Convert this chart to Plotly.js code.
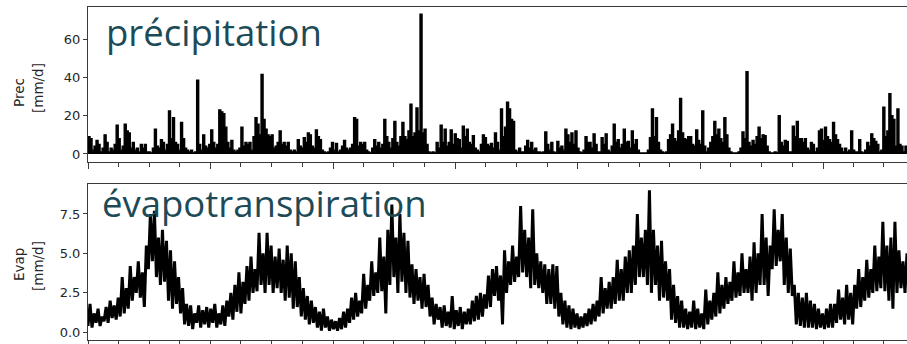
<!DOCTYPE html>
<html>
<head>
<meta charset="utf-8">
<script src="https://cdn.plot.ly/plotly-3.0.1.min.js"></script>
<style>html,body{margin:0;padding:0;background:#fff;}#chart{width:907px;height:344px;}</style>
</head>
<body>
<div id="chart"></div>
<script>
// Series start and sampling step (days) of the time axis
const startDate = '2000-01-01';
const stepDays = 6;

// Daily precipitation [mm/d], sampled every 6 days
const prec = [
9,8,2,4,7,5,1,3,10,6, 1,3,2,5,15,8,2,4,15.5,12,
11,3,6,2,3,1,5,3,5,1, 1,0.5,3,13,4,3,7.5,6,2,5,
22.5,8,19,6,5,2,16.5,8,3,2, 1,2,0.5,1,38.5,5,2,10,4,3,
5,12.5,6,3,5,23,22,21,14,6, 3,7,2,1,2,3,14,4,6,5,
6,2,9,19,15.5,10,41.5,18,13,10, 9,10,3,4,6,12,5,6,4,6,
2,1,2,1,7.5,4,3,8.5,6,11, 10,4,3,12.5,9,7.5,2,1,0.5,1,
3,6,2,5.5,1,2,4,7,3,2, 3,5,19,18,4,6,5,6,2,1,
0.5,3,7.5,4,6,3,5,18,9,6, 3,8,17,6,4,9,16.5,9,7.5,12,
26,9,11,24,12,73,11,13,5,1, 0.5,1,0.5,6,3,15,6,13,4,6,
12.5,5,10.5,8,7.5,3,14.5,9,13,6, 5,9.5,3,2,1,5,10,8.5,5,4,
5.5,3,11,6,2,23.5,9,14,27,23.5, 18,17,2,1,3,1,1,4,7,3,
6,2,3,1,1,0.5,1,11.5,5,2, 6,1,0.5,6.5,3,4,2,13,10,6,
11,5,12,3,1,0.5,2,9,6,6, 3,10.5,5,1,1,8.5,5,10.5,2,1,
4,15.5,6,7.5,3,5,13,6,6.5,3, 12,5,7.5,2,0.5,0.5,0.5,0.5,2,8.5,
23.5,9,19,6,2,1,0.5,1,7.5,10, 15.5,8,6.5,12,29,11,8,7.5,9,9,
5,4,12.5,7,5,22.5,4,1,3,6, 9,17,10,13,8,6,19,10,3,1,
0.5,0.5,0.5,1,3,11.5,8,43,6,4, 7,5,9,14,8,10,9.5,4,1,0.5,
0.5,1,0.5,20,6,4,7,6.5,1,1, 14.5,9,17,8,8,6,8,3,2,6,
5,1,3,12,13,7,14,9,7.5,6, 16.5,10,7.5,5,3,1,3,1,2,12,
2,1,1,7.5,1,0.5,2,6,4,10.5, 8,6.5,5,1,2,24.5,9,12,31.5,20,
18,4,23.5,5,4,1,4,2,1,2
];

// Daily evapotranspiration [mm/d], sampled every 6 days
const evap = [
0.4,1.8,0.3,1.2,0.6,1.5,0.4,1.0,0.7,1.6, 0.6,2.0,0.9,1.7,0.8,2.2,1.0,3.5,1.2,2.8,
1.5,4.2,2.0,3.5,2.5,4.5,2.2,3.8,1.6,5.5, 4.0,7.5,4.5,7.7,3.5,6.0,3.0,6.5,3.2,5.8,
2.0,5.2,1.5,4.5,1.8,3.5,1.2,2.8,0.5,1.8, 0.4,1.7,0.2,1.2,0.6,1.7,0.3,1.4,0.5,1.6,
0.3,1.5,0.6,1.8,0.3,1.2,0.5,1.7,0.4,2.0, 1.0,2.5,0.8,3.0,1.3,3.8,1.2,3.2,1.8,4.2,
2.0,4.8,2.5,4.0,2.6,6.3,3.0,5.0,2.5,6.3, 3.0,5.5,2.5,4.8,2.8,5.3,2.5,4.6,2.0,5.5,
2.2,5.0,1.5,4.5,1.6,3.5,1.0,2.8,0.8,2.3, 0.5,2.0,0.6,1.6,0.3,1.3,0.1,1.5,0.3,1.0,
0.1,0.8,0.2,0.7,0.1,0.9,0.2,1.3,0.3,1.5, 0.6,2.2,0.8,2.5,1.0,2.0,1.2,3.7,1.5,3.0,
2.0,4.5,2.3,3.8,2.5,6.0,2.6,4.8,1.2,6.5, 3.0,8.1,3.5,6.0,2.5,7.5,3.2,6.3,2.5,5.8,
2.2,4.3,1.8,4.0,2.0,3.5,1.5,3.7,1.6,3.0, 1.0,2.2,0.5,1.8,0.8,1.6,0.3,1.7,0.4,1.3,
0.3,2.3,0.2,1.4,0.4,1.6,0.2,1.3,0.5,1.5, 0.5,2.0,0.7,2.3,0.8,2.5,1.0,2.4,1.5,3.6,
1.6,4.0,2.3,4.2,2.0,3.6,0.5,5.2,2.5,4.5, 3.0,5.5,3.2,4.8,3.5,8.0,3.8,6.5,3.5,6.0,
2.8,7.8,3.0,5.0,2.8,4.5,2.5,4.3,1.8,4.0, 1.8,4.3,1.5,4.2,1.0,2.5,0.5,2.0,0.3,1.7,
0.2,1.5,0.3,1.2,0.2,1.0,0.3,1.2,0.4,1.5, 0.5,1.8,0.7,2.0,1.0,3.5,1.2,2.8,1.5,3.2,
1.5,3.5,1.8,4.6,2.0,4.0,2.0,4.8,2.5,5.2, 2.5,5.5,3.0,7.5,3.5,6.0,3.5,6.5,3.0,9.0,
2.5,6.5,3.0,5.5,2.0,5.8,2.2,4.5,2.0,4.0, 0.8,3.0,0.6,2.3,0.3,2.0,0.3,1.5,0.2,1.3,
0.3,2.0,0.2,1.5,0.3,1.2,0.2,2.7,0.5,2.0, 0.8,2.5,1.0,3.8,1.2,3.0,1.5,3.5,1.8,3.2,
2.0,4.5,2.2,3.8,2.3,5.0,2.5,4.0,2.5,4.8, 2.0,5.7,2.5,5.0,3.0,7.5,3.0,6.0,2.3,5.5,
4.0,7.8,4.2,6.5,4.5,7.5,3.0,6.0,2.5,5.3, 2.3,3.0,0.5,2.5,0.4,2.2,0.3,2.5,0.3,2.0,
0.3,1.8,0.2,1.5,0.3,1.2,0.2,1.5,0.3,1.8, 0.3,1.8,0.6,2.7,0.8,2.2,0.5,3.0,0.8,2.5,
0.5,3.0,1.5,4.0,1.6,3.5,2.0,4.6,2.2,4.0, 2.5,5.5,2.6,4.8,2.8,7.0,2.6,5.5,2.0,6.0,
1.5,7.0,2.5,5.2,2.8,4.5,2.5,5.0,2.5,4.7
];

const precTicks = [0, 20, 40, 60];
const evapTicks = [0, 2.5, 5, 7.5];
const evapTickText = ['0.0', '2.5', '5.0', '7.5'];
const precLabel = ['Prec', '[mm/d]'];
const evapLabel = ['Evap', '[mm/d]'];
const precTitle = 'précipitation';
const evapTitle = 'évapotranspiration';

function dateAt(i) {
  const d = new Date(startDate + 'T00:00:00Z');
  d.setUTCDate(d.getUTCDate() + i * stepDays);
  return d.toISOString().slice(0, 10);
}
const datesP = prec.map((_, i) => dateAt(i));
const datesE = evap.map((_, i) => dateAt(i));

const W = 907, H = 344;
const px = x => x / W;
const py = y => 1 - y / H;

const lineCol = '#000000';
const frameCol = '#3a3a3a';
const tickFont = {family: 'DejaVu Sans, sans-serif', size: 13, color: '#262626'};
const labelFont = {family: 'DejaVu Sans, sans-serif', size: 13.5, color: '#262626'};
const teal = '#1c4b57';

const traces = [
  {x: datesP, y: prec, type: 'scatter', mode: 'lines', line: {color: lineCol, width: 1.4, shape: 'hv'},
   fill: 'tozeroy', fillcolor: lineCol, xaxis: 'x', yaxis: 'y', hoverinfo: 'skip'},
  {x: datesE, y: evap, type: 'scatter', mode: 'lines', line: {color: lineCol, width: 3}, xaxis: 'x2', yaxis: 'y2', hoverinfo: 'skip'}
];

const xCommon = {
  type: 'date',
  range: ['2000-01-01', '2006-09-08'],
  domain: [px(88), 1],
  showgrid: false, zeroline: false,
  showline: true, linecolor: frameCol, linewidth: 1, mirror: true,
  ticks: 'outside', ticklen: 6, tickwidth: 1, tickcolor: frameCol,
  tick0: '2000-01-01', dtick: 'M12',
  minor: {ticks: 'outside', ticklen: 3.5, tickwidth: 1, tickcolor: frameCol, dtick: 'M3', tick0: '2000-01-01', showgrid: false},
  showticklabels: false, automargin: false, fixedrange: true
};

const layout = {
  width: W, height: H,
  margin: {l: 0, r: 0, t: 0, b: 0, pad: 0},
  paper_bgcolor: '#ffffff', plot_bgcolor: '#ffffff',
  showlegend: false,
  xaxis: Object.assign({}, xCommon, {anchor: 'y'}),
  xaxis2: Object.assign({}, xCommon, {anchor: 'y2'}),
  yaxis: {
    domain: [py(162), py(7)], range: [-4.2, 76.8], anchor: 'x',
    tickvals: precTicks, ticktext: precTicks.map(String),
    ticks: 'outside', ticklen: 4, tickwidth: 1, tickcolor: frameCol,
    showline: true, linecolor: frameCol, linewidth: 1,
    showgrid: false, zeroline: false, tickfont: tickFont, automargin: false, fixedrange: true
  },
  yaxis2: {
    domain: [py(340), py(184)], range: [-0.49, 9.4], anchor: 'x2',
    tickvals: evapTicks, ticktext: evapTickText,
    ticks: 'outside', ticklen: 4, tickwidth: 1, tickcolor: frameCol,
    showline: true, linecolor: frameCol, linewidth: 1,
    showgrid: false, zeroline: false, tickfont: tickFont, automargin: false, fixedrange: true
  },
  annotations: [
    {text: precLabel[0], xref: 'paper', yref: 'paper', x: px(19), y: py(93), textangle: -90, showarrow: false, xanchor: 'center', yanchor: 'middle', font: labelFont},
    {text: precLabel[1], xref: 'paper', yref: 'paper', x: px(38), y: py(88), textangle: -90, showarrow: false, xanchor: 'center', yanchor: 'middle', font: labelFont},
    {text: evapLabel[0], xref: 'paper', yref: 'paper', x: px(19), y: py(265), textangle: -90, showarrow: false, xanchor: 'center', yanchor: 'middle', font: labelFont},
    {text: evapLabel[1], xref: 'paper', yref: 'paper', x: px(38), y: py(266), textangle: -90, showarrow: false, xanchor: 'center', yanchor: 'middle', font: labelFont},
    {text: precTitle, xref: 'paper', yref: 'paper', x: px(104), y: py(32), showarrow: false, xanchor: 'left', yanchor: 'middle', font: {family: 'Open Sans, sans-serif', size: 36.5, color: teal}},
    {text: evapTitle, xref: 'paper', yref: 'paper', x: px(100), y: py(203), showarrow: false, xanchor: 'left', yanchor: 'middle', font: {family: 'Open Sans, sans-serif', size: 36.5, color: teal}}
  ]
};

Plotly.newPlot('chart', traces, layout, {staticPlot: true, displayModeBar: false});
</script>
</body>
</html>
